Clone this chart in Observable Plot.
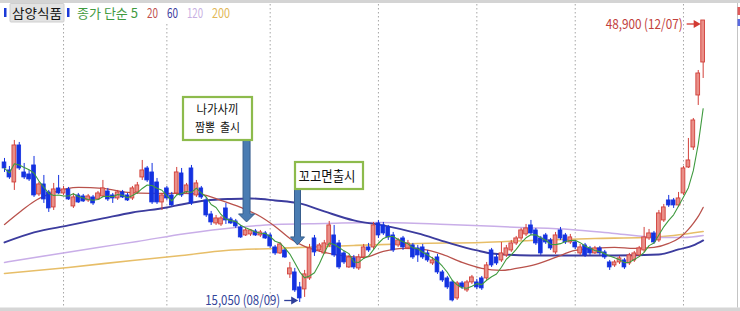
<!DOCTYPE html>
<html><head><meta charset="utf-8">
<script src="https://cdn.jsdelivr.net/npm/d3@7"></script>
<script src="https://cdn.jsdelivr.net/npm/@observablehq/plot@0.6"></script>
<style>
html,body{margin:0;padding:0;background:#fff;}
#chart{width:740px;height:311px;overflow:hidden;}
svg{display:block;}
</style></head><body><div id="chart"></div>
<script>
// ---- Data (daily candles, index 0 = mid May 2011 ... 142 = 12/07) ----
const open = [31860,30900,29460,33900,30660,30420,31500,28020,29220,28260,
26460,28740,28140,28620,26580,27900,27780,27300,27660,27420,
27780,28380,27900,27540,28260,27900,27540,28260,30060,31140,
30660,29460,27060,28740,27900,28140,30540,28260,31140,27900,
28740,27300,25620,24540,24420,26340,25020,24780,24060,23100,
23220,23580,23100,23340,23100,21660,20940,21300,18420,18660,
16860,16620,17940,22740,21300,20940,21900,23100,22140,20940,
19260,20340,19140,20460,21660,21660,24540,24300,24060,23100,
21900,22740,21540,21900,21540,21660,20940,19740,20460,18660,
17940,17460,15540,17340,16500,17460,17460,17940,17940,21300,
20460,20100,20700,21300,22140,22740,23220,24300,23700,22740,
23100,22500,21060,23700,23100,22260,22260,20940,21900,21540,
20940,21540,21060,19860,19500,19860,20100,19740,20100,20700,
21300,22740,23340,22500,24900,27300,27300,26700,28140,31260,
33660,39900,43860];
const close = [31140,30060,33900,31140,30060,29820,27900,29220,27420,26340,
28620,28140,28620,27420,27660,27060,27180,27780,26940,28140,
28740,27420,27540,28260,27660,27300,28740,29100,30900,29700,
27060,27060,27900,27540,26700,30660,27900,29100,26940,29340,
27660,25500,24660,25140,25140,24900,24540,24180,22860,23700,
23700,23100,23460,22740,21780,20940,22020,20460,19140,16500,
15540,18420,21540,21060,21900,22140,24300,20700,19260,19860,
20460,19260,20460,21660,21300,24300,23100,23340,22860,21300,
22500,21660,22140,20460,20700,20460,20100,20100,18660,17700,
16860,15300,17340,16860,17460,18060,16860,16740,19500,19500,
19740,20940,21540,22140,22740,23700,23940,23340,22140,20940,
22260,21540,23100,22740,22260,22860,21660,21660,20700,20940,
21540,20940,20460,19260,19860,20340,19260,20700,20940,21540,
22860,23340,22260,25740,26460,26700,26700,27540,31140,32100,
36900,42540,48900];
const high = [32340,31380,34500,34260,31740,30900,32580,29460,30300,28500,
29340,30300,28980,28860,28140,28140,28020,28020,27900,28380,
29700,28740,28140,28500,28500,28140,28980,29460,32100,31380,
31740,29940,28140,28980,28260,31260,31140,29340,31500,29700,
28980,27660,25980,25500,25380,26940,25260,25020,24300,23940,
23820,23820,23700,23580,23340,21900,22260,21540,19860,19140,
17460,18900,22020,23100,22140,22500,24780,24300,22500,21180,
20700,20700,20820,22020,22140,24660,24900,24660,24300,23460,
22740,22980,22500,22140,21900,22020,21300,20460,20820,18900,
18180,17700,17580,17580,17700,18300,17820,18180,19860,21540,
20820,22260,21900,22500,22980,23940,24420,24900,23940,22980,
23340,22740,23460,24060,23340,23220,22500,22020,22140,21780,
21780,21780,21300,20100,20100,20580,20340,20940,21180,21780,
24060,23820,23580,26100,26820,27900,27540,28260,31380,34740,
37140,42900,48900];
const low = [30660,29820,28500,30900,29820,29580,27660,27780,26940,25860,
26100,28020,27900,27300,26340,26940,27060,27060,26700,27300,
27660,27180,26940,27300,27540,27180,27300,28020,29700,29460,
26820,26820,26100,27300,26580,27900,27660,28140,26700,27660,
27420,25260,24300,24300,24180,24420,24420,23940,22740,22980,
22980,22980,22860,22620,21540,20700,20820,20340,17940,16260,
15050,15660,17700,20580,21060,20820,21660,20460,19020,19620,
19140,19020,18900,20220,21060,21420,22740,23100,22500,21060,
21660,21300,21420,20220,19860,20220,19860,19500,18420,17460,
16620,15120,15300,16620,16260,17220,16620,16500,17700,19260,
19500,19860,20460,21060,21900,22500,22980,23100,21900,20700,
22020,21300,20820,22500,22020,22020,21420,20700,20460,20700,
20820,20700,20220,18900,19260,19620,19020,19500,19860,20460,
21060,22500,22020,22260,24660,26460,26340,26460,27900,31140,
33300,38700,41940];

// first trading day of Jun, Jul, Aug, Sep, Oct, Nov, Dec (candle index)
const monthStarts = [12, 33, 54, 76, 96, 116, 138];

// moving averages: candle index -> value
const ma20Idx = [0,3,6,10,15,20,25,30,36,40,44,48,52,55,58,61,65,70,73,77,81,85,89,93,97,101,104,108,112,116,120,124,128,132,135,137,138,139,140,141,142];
const ma20Val = [24420,25860,27180,28260,28860,28740,28260,28140,28140,28020,27300,26460,25380,24180,22740,21780,21060,20580,20460,21180,21540,21420,20820,19860,19140,18900,19140,19620,20460,21300,21540,21660,21540,21660,22140,22740,23220,23820,24540,25380,26460];
const ma60Idx = [0,6,13,20,26,33,36,41,46,50,55,60,65,71,77,84,90,96,99,107,116,124,133,137,140,142];
const ma60Val = [22260,23460,24300,25140,25860,26460,26820,27300,27480,27540,27300,26940,25980,24900,24300,23340,22260,21300,20940,20700,20700,20700,20820,21420,21900,22500];
const ma120Idx = [0,10,19,27,37,47,55,65,76,90,105,115,124,133,138,142];
const ma120Val = [19860,20820,21660,22380,23340,24060,24420,24540,24660,24420,24060,23820,23340,22860,22860,23100];
const ma200Idx = [0,13,26,36,45,55,71,84,97,107,120,130,136,142];
const ma200Val = [18540,19260,20100,20700,21300,21540,21900,22140,22260,22500,22740,22860,23100,23580];

const stockName = "삼양식품";
const legendItems = ["종가 단순 5", "20", "60", "120", "200"];
const notes = [
  {lines: ["나가사끼", "짬뽕  출시"], i: 49.3, tip: 24660},
  {lines: ["꼬고면출시"], i: 59.65, tip: 21900}
];
const maxDate = "12/07", minDate = "08/09";

// ---- build tables ----
const candles = close.map((c, i) => ({i, open: open[i], high: high[i], low: low[i], close: c}));
const ups = candles.filter(d => d.close >= d.open);
const downs = candles.filter(d => d.close < d.open);
const pairs = (I, V) => I.map((i, k) => ({i, v: V[k]}));
const ma20 = pairs(ma20Idx, ma20Val), ma60 = pairs(ma60Idx, ma60Val),
      ma120 = pairs(ma120Idx, ma120Val), ma200 = pairs(ma200Idx, ma200Val);

const X_DOMAIN = [-0.813, 149.59];
const Y_DOMAIN = [15050, 48900];
const Y_RANGE = [302, 20];
const RED = "#d2403a", RED_FILL = "#e98f88", BLUE = "#1432e0";
const C5 = "#3f9a3f", C20 = "#b9524c", C60 = "#3c3c9e", C120 = "#c9aee8", C200 = "#e7be68";

const chart = Plot.plot({
  width: 740, height: 311,
  marginTop: 0, marginRight: 0, marginBottom: 0, marginLeft: 0,
  x: {domain: X_DOMAIN, range: [0, 740], axis: null},
  y: {domain: Y_DOMAIN, range: Y_RANGE, axis: null},
  style: {background: "#fff", fontFamily: "'Noto Sans CJK KR', sans-serif", overflow: "hidden"},
  marks: [
    Plot.ruleX(monthStarts, {x: d => d, stroke: "#a6a6a6", strokeDasharray: "1.5,2.5", strokeWidth: 1}),
    Plot.line(ma200, {x: "i", y: "v", stroke: C200, strokeWidth: 1.6, curve: "monotone-x"}),
    Plot.line(ma120, {x: "i", y: "v", stroke: C120, strokeWidth: 1.5, curve: "monotone-x"}),
    Plot.line(ma60, {x: "i", y: "v", stroke: C60, strokeWidth: 1.9, curve: "monotone-x"}),
    Plot.line(ma20, {x: "i", y: "v", stroke: C20, strokeWidth: 1.3, curve: "monotone-x"}),
    Plot.ruleX(downs, {x: "i", y1: "low", y2: "high", stroke: BLUE, strokeWidth: 1}),
    Plot.ruleX(ups, {x: "i", y1: "low", y2: "high", stroke: RED, strokeWidth: 1}),
    Plot.rect(downs, {x1: d => d.i - 0.38, x2: d => d.i + 0.38, y1: "open", y2: "close", fill: BLUE, stroke: BLUE, strokeWidth: 0.8}),
    Plot.rect(ups, {x1: d => d.i - 0.38, x2: d => d.i + 0.38, y1: "open", y2: "close", fill: RED_FILL, stroke: RED, strokeWidth: 0.9}),
    Plot.line(candles, Plot.windowY({k: 5, anchor: "end", reduce: "mean", strict: false}, {x: "i", y: "close", stroke: C5, strokeWidth: 1.1}))
  ]
});
document.getElementById("chart").appendChild(chart);

// ---- overlays positioned through the same scales ----
const xs = d3.scaleLinear(X_DOMAIN, [0, 740]);
const ys = d3.scaleLinear(Y_DOMAIN, Y_RANGE);
const svg = d3.select(chart);
const FONT = "'Noto Sans CJK KR', 'Noto Sans', sans-serif";
function txt(g, x, y, s, opt) {
  const t = g.append("text").attr("x", x).attr("y", y).text(s)
    .attr("font-family", FONT).attr("font-size", opt.size || 13)
    .attr("fill", opt.color || "#000").attr("text-anchor", opt.anchor || "start");
  if (opt.len) t.attr("textLength", opt.len).attr("lengthAdjust", "spacingAndGlyphs");
  if (opt.space) t.attr("xml:space", "preserve").style("white-space", "pre");
  return t;
}

// frame bands
svg.append("rect").attr("x", 0).attr("y", 0).attr("width", 740).attr("height", 3).attr("fill", "#d4d4d4");
svg.append("rect").attr("x", 0).attr("y", 307.5).attr("width", 740).attr("height", 4).attr("fill", "#d6d6d6");
svg.append("line").attr("x1", 737.5).attr("x2", 737.5).attr("y1", 3).attr("y2", 307.5).attr("stroke", "#c4c4c4");
svg.append("rect").attr("x", 737.5).attr("y", 7).attr("width", 3).attr("height", 8).attr("fill", "#e05a5a");
svg.append("rect").attr("x", 737.5).attr("y", 19).attr("width", 3).attr("height", 7).attr("fill", "#5a6ae0");

// legend
const lg = svg.append("g");
lg.append("rect").attr("x", 0).attr("y", 3).attr("width", 236).attr("height", 21).attr("fill", "#fff");
lg.append("rect").attr("x", 4).attr("y", 8).attr("width", 2.5).attr("height", 9).attr("fill", "#1a3ad8");
lg.append("rect").attr("x", 10).attr("y", 3.5).attr("width", 54).attr("height", 18.5).attr("fill", "#e3e3e3").attr("stroke", "#cfcfcf").attr("rx", 1);
txt(lg, 12, 17.5, stockName, {size: 13, len: 50, color: "#111"});
lg.append("rect").attr("x", 67).attr("y", 8).attr("width", 2.5).attr("height", 9).attr("fill", "#1a3ad8");
const legPos = [[77, 61, C5], [147, 11, "#c0504d"], [167, 11, C60], [187, 16, "#c8b0e2"], [212, 18, "#e2b858"]];
legendItems.forEach((s, k) => txt(lg, legPos[k][0], 17.5, s, {size: 13, len: legPos[k][1], color: legPos[k][2]}));

// block arrows + note boxes
const ag = svg.append("g");
const noteLayout = [
  {box: [183, 97, 69, 43], w: 7, hw: 16, top: 140, text: [[217.5, 113.5, 42], [217.5, 131.5, 45]], size: 12},
  {box: [295, 162, 68, 27], w: 6, hw: 14, top: 189, text: [[327, 181, 57]], size: 14}
];
notes.forEach((n, k) => {
  const L = noteLayout[k];
  const cx = xs(n.i), tip = ys(n.tip), hs = tip - 8;
  const p = [[cx - L.w/2, L.top], [cx - L.w/2, hs], [cx - L.hw/2, hs], [cx, tip], [cx + L.hw/2, hs], [cx + L.w/2, hs], [cx + L.w/2, L.top]];
  ag.append("path").attr("d", "M" + p.map(q => q.join(",")).join("L") + "Z")
    .attr("fill", "#4a7cb2").attr("stroke", "#375e8c").attr("stroke-width", 1);
  ag.append("rect").attr("x", L.box[0]).attr("y", L.box[1]).attr("width", L.box[2]).attr("height", L.box[3])
    .attr("fill", "#fff").attr("stroke", "#8dbb4c").attr("stroke-width", 2.2);
  n.lines.forEach((s, j) => {
    const [tx, ty, tl] = L.text[j];
    txt(ag, tx - tl/2, ty, s, {size: L.size, len: tl, color: "#111", space: true});
  });
});

// extreme labels
const hi = candles[d3.maxIndex(candles, d => d.high)];
const lo = candles[d3.minIndex(candles, d => d.low)];
const fmt = d3.format(",");
function pointer(g, tipX, y, len, color) {
  g.append("line").attr("x1", tipX - len).attr("x2", tipX - 4).attr("y1", y).attr("y2", y).attr("stroke", color).attr("stroke-width", 1.3);
  g.append("path").attr("d", `M${tipX-7},${y-4}L${tipX},${y}L${tipX-7},${y+4}Z`).attr("fill", color);
}
const eg = svg.append("g");
{
  const tx = xs(hi.i) - 2, ty = ys(hi.high) + 4;
  pointer(eg, tx, ty, 14, "#d23a32");
  txt(eg, tx - 18, ty + 5, `${fmt(hi.high)} (${maxDate})`, {size: 14, len: 77, color: "#c2413c", anchor: "end"});
}
{
  const tx = xs(lo.i) - 1, ty = ys(lo.low) - 1.5;
  pointer(eg, tx, ty, 14, "#2f3f9a");
  txt(eg, tx - 18, ty + 4.5, `${fmt(lo.low)} (${minDate})`, {size: 14, len: 75, color: "#33449a", anchor: "end"});
}
</script>
</body></html>
